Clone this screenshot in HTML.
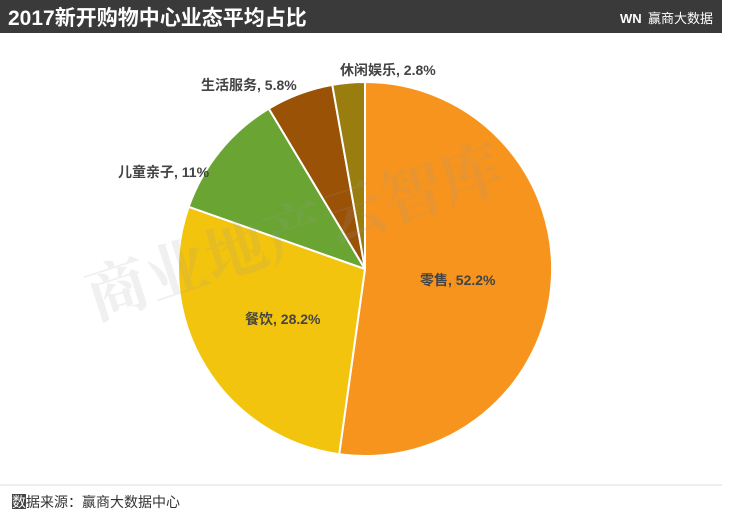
<!DOCTYPE html>
<html><head><meta charset="utf-8"><style>
body{margin:0;width:752px;height:514px;background:#fff;overflow:hidden;font-family:"Liberation Sans","Noto Sans CJK SC",sans-serif;}
</style></head><body>
<svg width="752" height="514" xmlns="http://www.w3.org/2000/svg" style="position:absolute;left:0;top:0">
<rect x="0" y="0" width="722" height="33" fill="#3a3a3a"/>
<text x="8" y="25" font-size="21" font-weight="bold" fill="#fff" font-family="Liberation Sans,Noto Sans CJK SC,sans-serif">2017新开购物中心业态平均占比</text>
<text x="620" y="23" font-size="13" font-weight="bold" fill="#fff" font-family="Liberation Sans,sans-serif">WN</text>
<text x="648" y="23" font-size="13" fill="#fff" font-family="Noto Sans CJK SC,sans-serif">赢商大数据</text>
<g stroke="#fff" stroke-width="2" stroke-linejoin="round">
<path d="M365,269 L365,82 A187,187 0 1 1 339.2,454.2 Z" fill="#F7941D"/>
<path d="M365,269 L339.2,454.2 A187,187 0 0 1 188.7,206.8 Z" fill="#F2C40E"/>
<path d="M365,269 L188.7,206.8 A187,187 0 0 1 268.8,108.6 Z" fill="#6AA534"/>
<path d="M365,269 L268.8,108.6 A187,187 0 0 1 332.3,84.9 Z" fill="#9A5207"/>
<path d="M365,269 L332.3,84.9 A187,187 0 0 1 365,82 Z" fill="#9A7D0F"/>
</g>
<text x="95" y="320" font-size="62" fill="#999" fill-opacity="0.15" font-family="Noto Serif CJK SC,serif" font-weight="bold" transform="rotate(-18 95 320)">商业地产云智库</text>
<g font-size="14" font-weight="bold" fill="#444" font-family="Liberation Sans,Noto Sans CJK SC,sans-serif">
<text x="420" y="285">零售, 52.2%</text>
<text x="245" y="324">餐饮, 28.2%</text>
<text x="118" y="177">儿童亲子, 11%</text>
<text x="201" y="90">生活服务, 5.8%</text>
<text x="340" y="75">休闲娱乐, 2.8%</text>
</g>
<line x1="0" y1="485" x2="722" y2="485" stroke="#ddd" stroke-width="1"/>
<rect x="12" y="494" width="14" height="15" fill="#444"/>
<text x="12" y="507" font-size="14" fill="#fff" font-family="Noto Sans CJK SC,sans-serif">数</text>
<text x="26" y="507" font-size="14" fill="#333" font-family="Noto Sans CJK SC,sans-serif">据来源：赢商大数据中心</text>
</svg>
</body></html>
